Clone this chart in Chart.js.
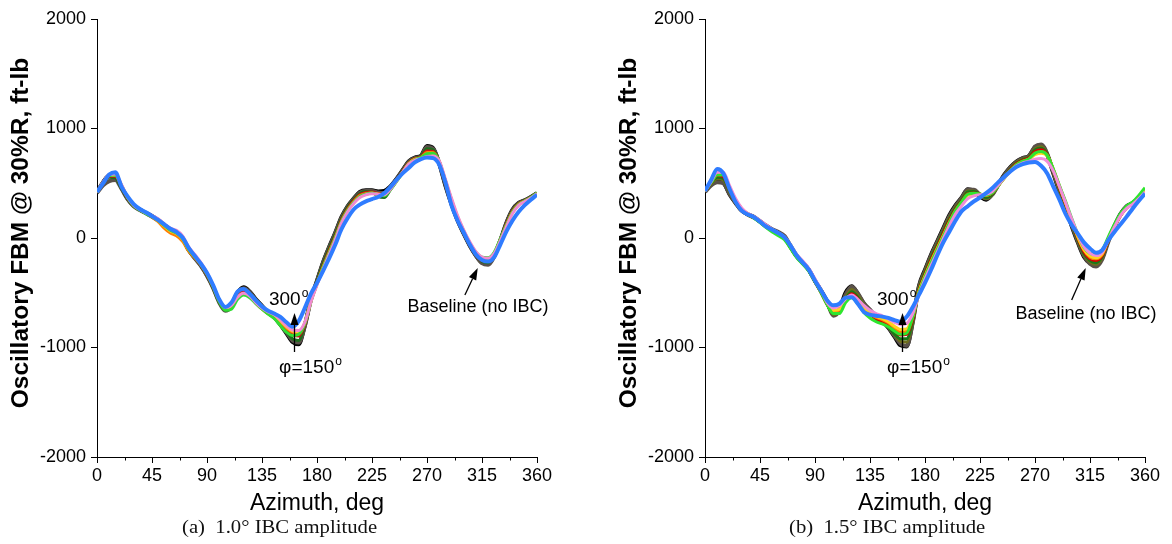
<!DOCTYPE html>
<html>
<head>
<meta charset="utf-8">
<script src="https://cdn.jsdelivr.net/npm/chart.js@4.4.0/dist/chart.umd.min.js"></script>
<style>
    html, body { margin: 0; padding: 0; background: #fff; }
    body { width: 1172px; height: 544px; position: relative; overflow: hidden; }
    .panel { position: absolute; top: 0; width: 586px; height: 544px; }
    .caption {
        position: absolute; top: 518px; line-height: 1;
        font-family: "Liberation Serif", "Times New Roman", serif; font-size: 18px;
        color: #111; white-space: pre; transform: scaleX(1.15); transform-origin: left top;
    }
</style>
</head>
<body>
<div class="panel" style="left:0"><canvas id="chartA" width="586" height="544"></canvas></div>
<div class="panel" style="left:586px"><canvas id="chartB" width="586" height="544"></canvas></div>
<div class="caption" style="left:182px">(a)  1.0° IBC amplitude</div>
<div class="caption" style="left:789px">(b)  1.5° IBC amplitude</div>
<script>
const azimuth = [0,5,10,15,20,25,30,35,40,45,50,55,60,65,70,75,80,85,90,95,100,105,110,115,120,125,130,135,140,145,150,155,160,165,170,175,180,185,190,195,200,205,210,215,220,225,230,235,240,245,250,255,260,265,270,275,280,285,290,295,300,305,310,315,320,325,330,335,340,345,350,355,360];
const xTicks = [0, 45, 90, 135, 180, 225, 270, 315, 360];
const xMinorTicks = [22.5, 67.5, 112.5, 157.5, 202.5, 247.5, 292.5, 337.5];
const yTicks = [-2000, -1000, 0, 1000, 2000];

// (a) 1.0 deg IBC amplitude
const a_baseline = [420,510,570,560,460,360,295,260,230,200, 165,120,75,50,0,-110,-180,-250,-340,-450, -580,-650,-610,-500,-450,-490,-560,-620,-680,-720, -790,-870,-950,-970,-800,-560,-390,-220,-80,50, 190,290,360,420,435,435,425,430,470,540, 620,700,735,750,840,820,680,480,310,160, 40,-70,-160,-225,-235,-160,-20,140,260,320, 345,375,410];
const a_gray = [410,480,520,530,450,355,290,255,225,195, 160,115,70,45,-5,-110,-185,-255,-345,-455, -590,-665,-625,-510,-460,-495,-565,-625,-685,-725, -790,-860,-935,-955,-805,-565,-395,-225,-85,45, 185,285,355,415,430,430,415,410,460,535, 615,695,730,745,830,815,685,490,315,165, 45,-65,-160,-230,-245,-170,-30,135,255,318, 343,373,408];
const a_green = [420,500,555,550,455,360,295,258,228,198, 162,118,72,48,-2,-105,-178,-248,-338,-450, -585,-660,-630,-520,-475,-505,-565,-625,-680,-720, -785,-855,-920,-935,-790,-560,-395,-235,-95,35, 175,280,350,405,425,420,380,370,440,525, 610,690,728,745,815,805,690,500,325,170, 45,-65,-155,-215,-225,-150,-15,130,250,315, 342,372,410];
const a_red = [420,505,565,565,470,365,300,262,232,200, 160,112,68,42,-10,-110,-175,-245,-335,-445, -575,-650,-625,-530,-490,-520,-580,-640,-690,-720, -780,-840,-885,-895,-790,-570,-410,-255,-115,15, 160,265,340,395,415,420,405,400,450,525, 605,685,725,740,795,790,690,505,330,175, 50,-60,-150,-205,-210,-150,-20,125,245,312, 340,370,408];
const a_orange = [420,505,570,570,475,370,300,262,228,192, 150,90,45,20,-30,-120,-180,-245,-330,-440, -570,-640,-620,-540,-505,-530,-595,-650,-690,-715, -765,-820,-860,-865,-780,-575,-415,-265,-130,5, 150,255,330,385,405,410,400,395,445,520, 600,680,720,735,780,780,695,515,340,185, 60,-50,-140,-190,-195,-140,-15,120,240,308, 338,368,408];
const a_gold = [420,508,575,578,485,372,300,260,228,198, 160,110,65,40,-10,-105,-170,-240,-325,-438, -570,-640,-625,-545,-510,-535,-595,-645,-680,-705, -755,-810,-850,-855,-775,-580,-422,-275,-140,-5, 140,245,322,378,400,408,400,395,445,520, 598,678,715,730,762,765,700,530,355,195, 68,-42,-132,-180,-188,-138,-18,112,232,302, 335,367,406];
const a_lime = [420,505,570,575,480,370,295,255,222,195, 160,115,70,45,-5,-105,-172,-240,-330,-445, -580,-660,-650,-560,-520,-545,-600,-650,-695,-735, -800,-860,-890,-880,-780,-580,-420,-270,-135,0, 145,250,325,380,400,410,395,385,440,515, 595,675,715,735,770,775,700,525,350,190, 65,-45,-130,-175,-180,-130,-10,115,235,305, 338,370,412];
const a_pink = [420,510,580,585,490,375,300,260,230,205, 175,130,90,70,20,-80,-150,-225,-315,-430, -565,-635,-615,-540,-505,-530,-590,-640,-675,-700, -745,-800,-840,-845,-770,-585,-430,-285,-150,-15, 135,240,315,370,395,405,400,395,445,520, 600,675,710,725,745,750,705,540,365,205, 75,-35,-125,-175,-185,-140,-25,105,225,298, 332,365,405];
const a_blue = [420,500,580,600,470,380,310,265,235,200, 165,125,85,55,5,-90,-165,-235,-320,-430, -560,-630,-590,-490,-465,-510,-570,-625,-665,-690, -720,-770,-810,-760,-640,-510,-410,-300,-185,-60, 80,180,260,305,335,355,375,410,465,530, 590,640,690,720,735,730,670,510,300,160, 50,-60,-150,-200,-215,-175,-60,60,160,240, 300,350,395];

// (b) 1.5 deg IBC amplitude
const b_baseline = [430,490,520,505,400,320,250,215,190,150, 110,75,45,10,-80,-165,-225,-290,-390,-480, -580,-690,-650,-500,-440,-510,-600,-660,-720,-760, -820,-900,-980,-990,-760,-440,-290,-150,-30,90, 210,300,370,445,430,380,350,400,490,580, 650,700,730,750,830,850,760,590,420,270, 110,-40,-170,-230,-250,-180,-20,110,220,290, 320,370,430];
const b_gray = [420,480,510,500,405,322,252,218,195,155, 115,80,55,20,-70,-160,-225,-292,-392,-485, -590,-710,-665,-520,-445,-505,-595,-655,-715,-755, -815,-890,-965,-985,-770,-450,-300,-160,-40,80, 200,290,365,440,440,395,360,395,485,575, 645,695,728,748,835,855,770,600,430,280, 120,-30,-160,-235,-260,-195,-35,100,215,288, 318,368,428];
const b_olive = [430,495,540,530,420,325,250,212,188,150, 108,72,42,5,-85,-170,-230,-295,-395,-490, -600,-700,-670,-540,-470,-520,-610,-670,-725,-760, -810,-880,-945,-950,-760,-460,-310,-175,-55,65, 185,280,350,430,430,390,360,395,480,565, 635,690,720,740,815,835,765,610,440,290, 130,-20,-150,-220,-240,-180,-30,100,210,280, 315,365,425];
const b_green = [430,500,555,545,430,330,255,210,185,150, 105,70,40,0,-90,-175,-232,-300,-400,-495, -605,-690,-675,-560,-490,-540,-625,-690,-740,-770, -815,-875,-920,-920,-750,-470,-320,-185,-65,55, 175,270,345,420,425,395,370,400,480,560, 630,685,715,735,805,820,765,615,450,300, 140,-10,-140,-205,-225,-170,-25,100,210,278, 313,362,424];
const b_red = [430,505,570,560,440,335,258,210,182,145, 100,65,35,-5,-90,-172,-230,-300,-400,-500, -610,-680,-670,-570,-510,-555,-635,-695,-735,-760, -795,-845,-885,-880,-740,-480,-335,-200,-80,40, 160,260,335,405,410,400,385,410,480,555, 625,680,710,730,790,805,760,620,460,310, 150,0,-125,-190,-205,-160,-25,100,205,275, 312,362,425];
const b_orange = [430,510,585,580,460,345,268,220,188,150, 105,68,38,0,-80,-165,-225,-295,-390,-490, -600,-670,-660,-575,-525,-570,-640,-690,-725,-745, -775,-820,-860,-850,-720,-490,-345,-215,-95,25, 145,250,325,395,405,400,390,415,480,550, 615,670,700,720,770,785,755,625,470,320, 160,10,-110,-175,-190,-150,-20,100,205,275, 315,368,432];
const b_gold = [430,515,595,590,470,350,270,222,190,152, 108,72,40,2,-75,-160,-220,-290,-385,-485, -595,-660,-650,-570,-525,-570,-635,-680,-715,-735, -765,-805,-835,-830,-710,-495,-350,-220,-100,20, 140,245,320,390,400,398,392,418,480,548, 612,668,698,718,760,775,750,625,475,325, 165,15,-105,-165,-180,-140,-10,105,210,280, 318,372,436];
const b_lime = [430,505,575,575,455,340,260,212,180,140, 95,55,20,-15,-95,-180,-240,-305,-400,-500, -610,-690,-690,-590,-545,-600,-680,-730,-765,-785, -810,-850,-880,-870,-720,-500,-355,-225,-105,15, 140,250,330,400,408,402,390,412,478,550, 618,672,702,722,775,790,755,630,480,335, 180,35,-85,-140,-150,-110,10,125,225,292, 330,390,460];
const b_pink = [430,515,600,600,480,360,275,225,195,160, 118,80,48,10,-65,-150,-210,-280,-375,-475, -590,-640,-620,-555,-520,-560,-615,-660,-690,-710, -740,-770,-790,-780,-690,-520,-375,-250,-130,-5, 115,220,295,360,385,395,400,425,485,550, 612,660,685,700,720,725,700,610,470,325, 175,35,-80,-140,-160,-130,-15,100,205,270, 310,360,420];
const b_blue = [430,530,630,590,450,330,250,215,190,150, 105,75,45,5,-70,-160,-225,-290,-390,-480, -570,-615,-600,-545,-540,-600,-675,-700,-710,-718, -730,-750,-765,-720,-630,-520,-410,-290,-160,-40, 60,160,245,290,335,370,410,455,510,560, 610,650,675,690,695,660,590,470,350,220, 120,40,-40,-95,-135,-110,-20,55,125,195, 270,340,405];

const FONT = '"Liberation Sans", Arial, sans-serif';

// drawn bottom to top
const panels = [
    {
        canvas: 'chartA', plotLeft: 97, plotRight: 537,
        series: [
            [a_baseline, '#000000', 4], [a_gray, '#5a514a', 4], [a_green, '#1d6e1d', 3],
            [a_red, '#cc1010', 3], [a_orange, '#ff7f00', 3], [a_gold, '#ffc83c', 3],
            [a_lime, '#33dd33', 3], [a_pink, '#f08ad0', 3], [a_blue, '#2f7cff', 4]
        ],
        baseLabelY: -676, baseArrow: [[301, -520], [311.5, -274]]
    },
    {
        canvas: 'chartB', plotLeft: 119, plotRight: 559,
        series: [
            [b_baseline, '#000000', 4], [b_gray, '#5a514a', 4], [b_olive, '#6e6e1e', 3],
            [b_green, '#187a18', 3], [b_red, '#d40000', 3], [b_orange, '#ff8000', 3],
            [b_gold, '#ffd21f', 3], [b_lime, '#2ee62e', 3], [b_pink, '#f08cd8', 3], [b_blue, '#2f7cff', 4]
        ],
        baseLabelY: -740, baseArrow: [[300, -566], [311.5, -274]]
    }
];

function textWithSup(ctx, main, sup, x, y) {
    ctx.font = '19px ' + FONT;
    ctx.textAlign = 'left';
    ctx.textBaseline = 'alphabetic';
    ctx.fillText(main, x, y);
    const w = ctx.measureText(main).width;
    ctx.font = '12px ' + FONT;
    ctx.fillText(sup, x + w + 1, y - 8);
}

function arrow(ctx, x1, y1, x2, y2) {
    const ang = Math.atan2(y2 - y1, x2 - x1);
    const head = 12, half = 4;
    const bx = x2 - head * Math.cos(ang), by = y2 - head * Math.sin(ang);
    ctx.beginPath();
    ctx.moveTo(x1, y1);
    ctx.lineTo(bx, by);
    ctx.stroke();
    ctx.beginPath();
    ctx.moveTo(x2, y2);
    ctx.lineTo(bx + half * Math.sin(ang), by - half * Math.cos(ang));
    ctx.lineTo(bx - half * Math.sin(ang), by + half * Math.cos(ang));
    ctx.closePath();
    ctx.fill();
}

const annotatePlugin = {
    id: 'annotate',
    afterDraw(chart) {
        const p = chart.config.options.plugins.annotate;
        const ctx = chart.ctx;
        const xs = chart.scales.x, ys = chart.scales.y;
        const area = chart.chartArea;
        ctx.save();
        ctx.strokeStyle = '#000';
        ctx.fillStyle = '#000';
        ctx.lineWidth = 1;

        // minor ticks
        xMinorTicks.forEach(v => {
            const px = Math.round(xs.getPixelForValue(v)) + 0.5;
            ctx.beginPath();
            ctx.moveTo(px, area.bottom);
            ctx.lineTo(px, area.bottom + 3.5);
            ctx.stroke();
        });

        // axis titles
        ctx.font = '23px ' + FONT;
        ctx.textAlign = 'center';
        ctx.textBaseline = 'alphabetic';
        ctx.fillText('Azimuth, deg', (area.left + area.right) / 2, 510);
        ctx.save();
        ctx.translate(area.left - 76, (area.top + area.bottom) / 2 - 5);
        ctx.rotate(-Math.PI / 2);
        ctx.font = 'bold 24.5px ' + FONT;
        ctx.textBaseline = 'middle';
        ctx.fillText('Oscillatory FBM @ 30%R, ft-lb', 0, 0);
        ctx.restore();

        // phase annotation
        textWithSup(ctx, '300', 'o', xs.getPixelForValue(140.7), ys.getPixelForValue(-612));
        textWithSup(ctx, '\u03c6=150', 'o', xs.getPixelForValue(149), ys.getPixelForValue(-1233));
        const ax = Math.round(xs.getPixelForValue(161.3)) + 0.5;
        ctx.lineWidth = 1.3;
        arrow(ctx, ax, ys.getPixelForValue(-1041), ax, ys.getPixelForValue(-685));

        // baseline annotation
        ctx.font = '18px ' + FONT;
        ctx.textAlign = 'left';
        ctx.fillText('Baseline (no IBC)', xs.getPixelForValue(254), ys.getPixelForValue(p.baseLabelY));
        const s = p.baseArrow;
        arrow(ctx, xs.getPixelForValue(s[0][0]), ys.getPixelForValue(s[0][1]),
            xs.getPixelForValue(s[1][0]), ys.getPixelForValue(s[1][1]));
        ctx.restore();
    }
};

function makeChart(panel) {
    const n = panel.series.length;
    const datasets = panel.series.map((s, i) => ({
        data: azimuth.map((a, k) => ({ x: a, y: s[0][k] })),
        borderColor: s[1],
        borderWidth: s[2],
        order: n - i,
        pointRadius: 0,
        fill: false,
        cubicInterpolationMode: 'monotone'
    }));
    const ctx = document.getElementById(panel.canvas).getContext('2d');
    return new Chart(ctx, {
        type: 'line',
        data: { datasets: datasets },
        plugins: [annotatePlugin],
        options: {
            responsive: false,
            animation: false,
            layout: { padding: { top: 19, right: 586 - panel.plotRight, bottom: 0, left: 0 } },
            plugins: {
                legend: { display: false },
                tooltip: { enabled: false },
                annotate: { baseLabelY: panel.baseLabelY, baseArrow: panel.baseArrow }
            },
            scales: {
                x: {
                    type: 'linear', min: 0, max: 360,
                    afterBuildTicks: scale => { scale.ticks = xTicks.map(v => ({ value: v })); },
                    afterFit: scale => { scale.height = 87; },
                    grid: { display: true, drawOnChartArea: false, tickLength: 6, tickColor: '#000', tickWidth: 1 },
                    border: { display: true, color: '#000', width: 1 },
                    ticks: { color: '#000', font: { family: FONT, size: 18 }, padding: 2, maxRotation: 0, autoSkip: false,
                        callback: v => String(v) }
                },
                y: {
                    type: 'linear', min: -2000, max: 2000,
                    afterBuildTicks: scale => { scale.ticks = yTicks.map(v => ({ value: v })); },
                    afterFit: scale => { scale.width = panel.plotLeft; },
                    grid: { display: true, drawOnChartArea: false, tickLength: 6, tickColor: '#000', tickWidth: 1 },
                    border: { display: true, color: '#000', width: 1 },
                    ticks: { color: '#000', font: { family: FONT, size: 18 }, padding: 5,
                        callback: v => String(v) }
                }
            }
        }
    });
}

panels.forEach(makeChart);
</script>
</body>
</html>
